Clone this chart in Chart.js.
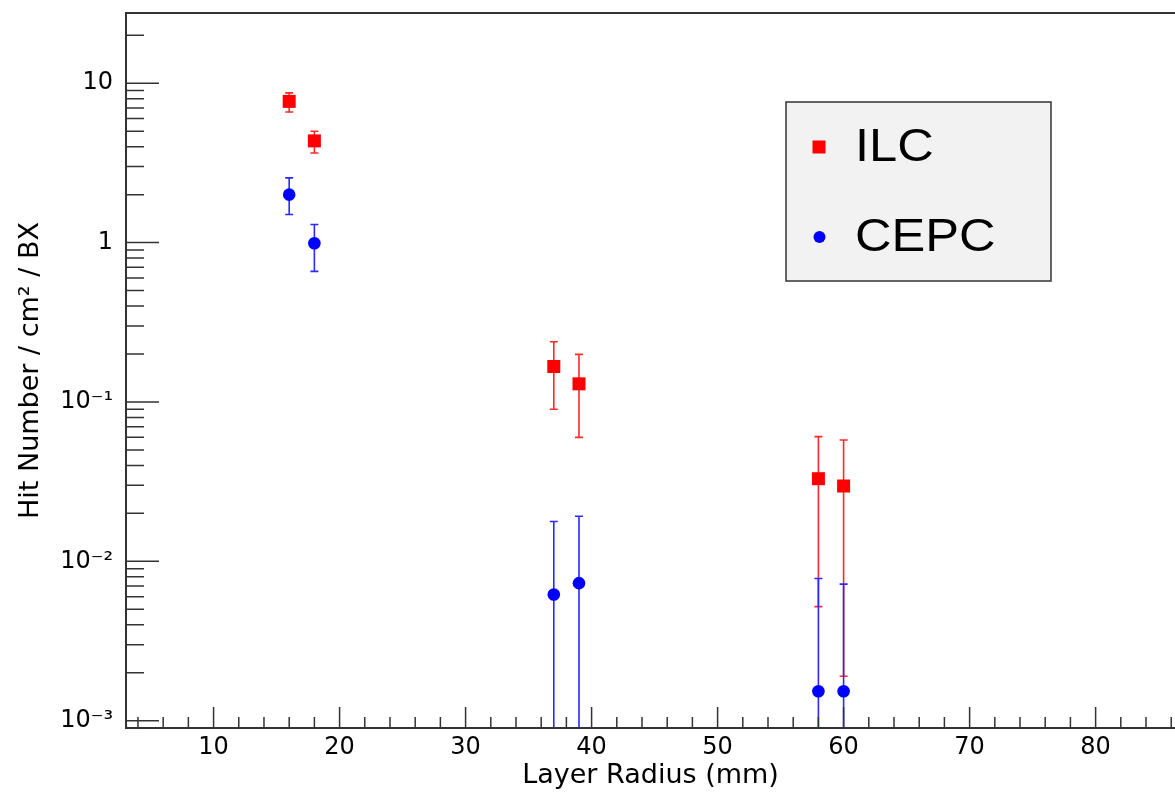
<!DOCTYPE html>
<html lang="en">
<head>
<meta charset="UTF-8">
<title>Hit Number vs Layer Radius</title>
<script src="https://cdn.jsdelivr.net/npm/chart.js"></script>
<style>
  body { margin: 0; background: #fff; }
  #wrap { width: 1175px; height: 793px; }
</style>
</head>
<body>
<div id="wrap"><canvas id="hitChart" width="1175" height="793"></canvas></div>
<script>
// layer radius (mm), same for both machines
const layerRadius = [16, 18, 37, 39, 58, 60];

// ILC hits / cm2 / BX and the two ends of each error bar
const ilcHits = [7.7, 4.35, 0.167, 0.130, 0.033, 0.0297];
const ilcLow  = [6.6, 3.65, 0.090, 0.060, 0.0052, 0.0019];
const ilcHigh = [8.7, 5.0, 0.239, 0.199, 0.0606, 0.0578];

// CEPC, a low end of 0 means the bar runs off the bottom of the axis
const cepcHits = [2.0, 0.99, 0.0062, 0.0073, 0.00153, 0.00153];
const cepcLow  = [1.5, 0.66, 0, 0, 0, 0];
const cepcHigh = [2.55, 1.30, 0.0178, 0.0192, 0.0078, 0.0072];

const xTicks = [10, 20, 30, 40, 50, 60, 70, 80];
const xTickLabels = ['10', '20', '30', '40', '50', '60', '70', '80'];
const yTicks = [0.001, 0.01, 0.1, 1, 10];
const yTickLabels = ['10⁻³', '10⁻²', '10⁻¹', '1', '10'];

const xMinor = [];
for (let v = 4; v <= 86; v += 2) if (v % 10) xMinor.push(v);
const yMinor = [];
[0.0001, 0.001, 0.01, 0.1, 1, 10].forEach(d => {
  for (let m = 2; m <= 9; m++) yMinor.push(m * d);
});

const axisFont = { family: 'DejaVu Sans', size: 24 };
const titleFont = { family: 'DejaVu Sans', size: 27 };

// no extra room for edge labels, the frame sits where the picture has it
function noEdgePadding(s) {
  s.paddingTop = 0; s.paddingBottom = 0; s.paddingLeft = 0; s.paddingRight = 0;
}

// error bars, axis frame with inside ticks, and the legend box
const rootStyle = {
  id: 'rootStyle',
  beforeDatasetsDraw(chart) {
    const { ctx, chartArea: a, scales: { x, y } } = chart;
    ctx.save();
    ctx.beginPath();
    ctx.rect(a.left, a.top, a.right - a.left, a.bottom - a.top);
    ctx.clip();
    chart.data.datasets.forEach(ds => {
      ctx.strokeStyle = ds.errColor;
      ctx.lineWidth = 1.6;
      ds.data.forEach((p, i) => {
        const px = x.getPixelForValue(p.x);
        const top = y.getPixelForValue(ds.errHigh[i]);
        const hasLow = ds.errLow[i] > y.min;
        const bot = hasLow ? y.getPixelForValue(ds.errLow[i]) : a.bottom;
        ctx.beginPath();
        ctx.moveTo(px, top); ctx.lineTo(px, bot);
        ctx.moveTo(px - 4, top); ctx.lineTo(px + 4, top);
        if (hasLow) { ctx.moveTo(px - 4, bot); ctx.lineTo(px + 4, bot); }
        ctx.stroke();
      });
    });
    ctx.restore();
  },
  afterDatasetsDraw(chart) {
    const { ctx, chartArea: a, scales: { x, y } } = chart;
    ctx.save();
    ctx.strokeStyle = '#333';
    ctx.lineWidth = 2;
    ctx.beginPath();
    ctx.moveTo(a.right, a.top); ctx.lineTo(a.left, a.top);
    ctx.lineTo(a.left, a.bottom); ctx.lineTo(a.right, a.bottom);
    ctx.stroke();

    ctx.lineWidth = 1.5;
    ctx.beginPath();
    xTicks.forEach(v => { const p = x.getPixelForValue(v); ctx.moveTo(p, a.bottom); ctx.lineTo(p, a.bottom - 21); });
    xMinor.forEach(v => {
      if (v <= x.min || v >= x.max) return;
      const p = x.getPixelForValue(v); ctx.moveTo(p, a.bottom); ctx.lineTo(p, a.bottom - 11);
    });
    yTicks.forEach(v => { const p = y.getPixelForValue(v); ctx.moveTo(a.left, p); ctx.lineTo(a.left + 33, p); });
    yMinor.forEach(v => {
      if (v <= y.min || v >= y.max) return;
      const p = y.getPixelForValue(v); ctx.moveTo(a.left, p); ctx.lineTo(a.left + 18, p);
    });
    ctx.stroke();

    // legend
    ctx.fillStyle = '#f2f2f2';
    ctx.strokeStyle = '#333';
    ctx.lineWidth = 1.5;
    ctx.fillRect(786, 102, 265, 179);
    ctx.strokeRect(786, 102, 265, 179);
    const rows = [147, 237];
    chart.data.datasets.forEach((ds, i) => {
      const cy = rows[i];
      ctx.fillStyle = ds.backgroundColor;
      if (ds.pointStyle === 'rect') {
        ctx.fillRect(812.5, cy - 6.5, 13, 13);
      } else {
        ctx.beginPath(); ctx.arc(819.5, cy, 6, 0, Math.PI * 2); ctx.fill();
      }
      ctx.fillStyle = '#000';
      ctx.font = '46px "Liberation Sans"';
      ctx.textBaseline = 'middle';
      ctx.save();
      ctx.translate(855, cy + 1);
      ctx.scale(1.1, 1);
      ctx.fillText(ds.label, 0, 0);
      ctx.restore();
    });
    ctx.restore();
  }
};

new Chart(document.getElementById('hitChart'), {
  type: 'scatter',
  data: {
    datasets: [
      {
        label: 'ILC',
        data: layerRadius.map((r, i) => ({ x: r, y: ilcHits[i] })),
        errLow: ilcLow, errHigh: ilcHigh, errColor: '#ff2a2a',
        pointStyle: 'rect', pointRadius: 9.2, borderWidth: 0,
        backgroundColor: '#ff0000'
      },
      {
        label: 'CEPC',
        data: layerRadius.map((r, i) => ({ x: r, y: cepcHits[i] })),
        errLow: cepcLow, errHigh: cepcHigh, errColor: '#2a2aff',
        pointStyle: 'circle', pointRadius: 6.3, borderWidth: 0,
        backgroundColor: '#0000ff'
      }
    ]
  },
  options: {
    responsive: false,
    animation: false,
    layout: { autoPadding: false, padding: { top: 13, left: 0, right: 0, bottom: 0 } },
    plugins: { legend: { display: false }, tooltip: { enabled: false } },
    scales: {
      x: {
        type: 'linear', min: 3.05, max: 86.3,
        grid: { display: false, drawTicks: false }, border: { display: false },
        afterBuildTicks: s => { s.ticks = xTicks.map(v => ({ value: v })); },
        afterFit: s => { s.height = 65; noEdgePadding(s); },
        ticks: { callback: (v, i) => xTickLabels[i], font: axisFont, color: '#000', padding: 5, maxRotation: 0, autoSkip: false },
        title: { display: true, text: 'Layer Radius (mm)', font: titleFont, color: '#000', padding: { top: 0, bottom: 1 } }
      },
      y: {
        type: 'logarithmic', min: 0.0009, max: 27.6,
        grid: { display: false, drawTicks: false }, border: { display: false },
        afterBuildTicks: s => { s.ticks = yTicks.map(v => ({ value: v })); },
        afterFit: s => { s.width = 126; noEdgePadding(s); },
        ticks: { callback: (v, i) => yTickLabels[i], font: axisFont, color: '#000', padding: 13, autoSkip: false },
        title: { display: true, text: 'Hit Number / cm² / BX', font: titleFont, color: '#000', padding: { top: 15, bottom: 0 } }
      }
    }
  },
  plugins: [rootStyle]
});
</script>
</body>
</html>
